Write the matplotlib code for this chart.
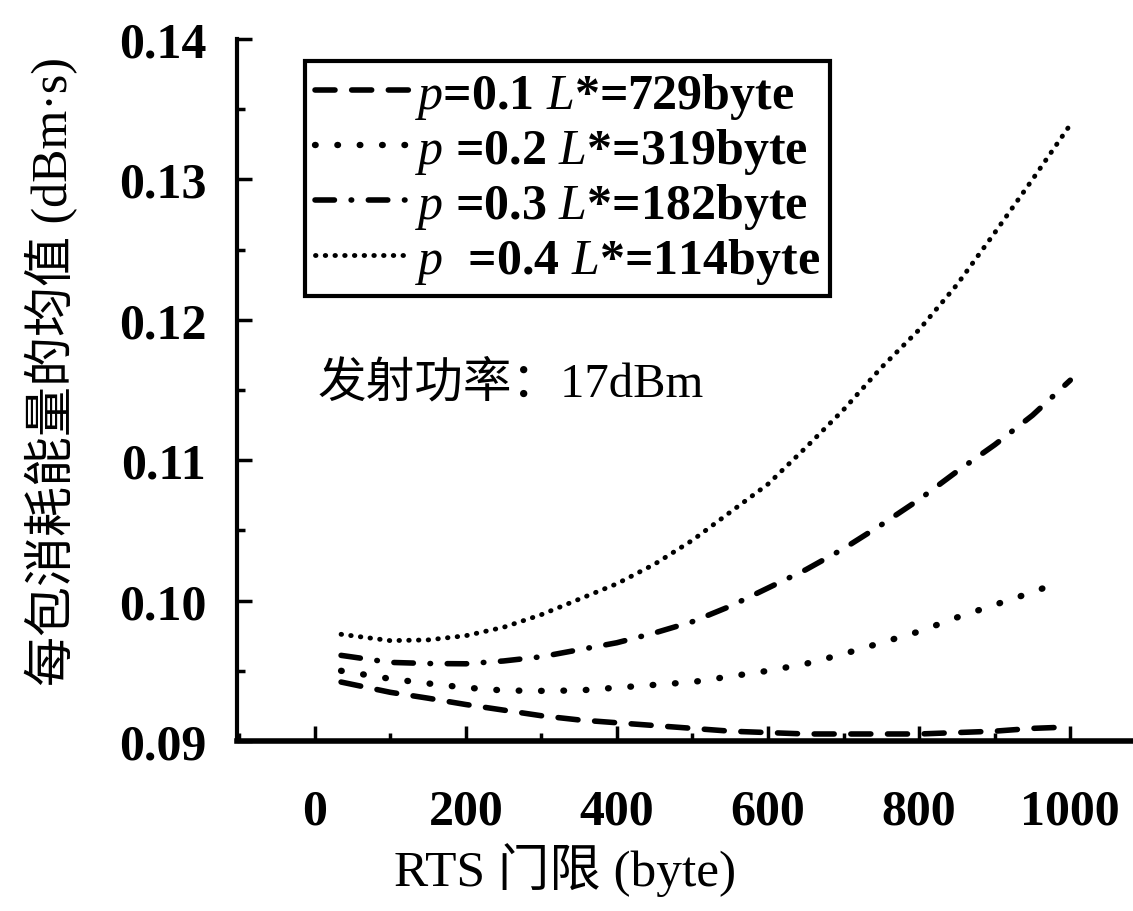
import matplotlib
matplotlib.use("Agg")
import matplotlib.pyplot as plt
from matplotlib.ticker import MultipleLocator

# fonts: Times-like latin, CJK falls back to Noto
plt.rcParams['font.family'] = ['Liberation Serif', 'Noto Sans CJK SC']
plt.rcParams['mathtext.fontset'] = 'custom'
plt.rcParams['mathtext.rm'] = 'Liberation Serif'
plt.rcParams['mathtext.it'] = 'Liberation Serif:italic'

# RTS threshold (byte)
x = [35, 100, 150, 200, 250, 300, 350, 400, 450, 500, 550,
     600, 650, 700, 750, 800, 850, 900, 950, 1000]
x_p2 = [35, 100, 150, 200, 250, 300, 350, 400, 450, 500, 550,
        600, 650, 700, 750, 800, 850, 900, 950, 975]

# mean energy per packet (dBm.s)
y_p1 = [0.0942, 0.09347, 0.09305, 0.0926, 0.0922, 0.0918, 0.0915, 0.0913, 0.0911, 0.0909, 0.0907,
        0.0906, 0.0905, 0.0905, 0.0905, 0.0905, 0.0906, 0.0907, 0.0909, 0.0910]
y_p2 = [0.0950, 0.09443, 0.0941, 0.0938, 0.0936, 0.09357, 0.0936, 0.0938, 0.0940, 0.0942, 0.0946,
        0.0950, 0.0955, 0.0962, 0.0970, 0.0978, 0.0988, 0.0997, 0.1006, 0.1011]
y_p3 = [0.0961, 0.0956, 0.09552, 0.0955, 0.0957, 0.0960, 0.0965, 0.0970, 0.0977, 0.0985, 0.0996,
        0.1009, 0.1022, 0.1037, 0.1054, 0.1072, 0.1092, 0.1111, 0.1132, 0.1157]
y_p4 = [0.0976, 0.09715, 0.0972, 0.0975, 0.0981, 0.0990, 0.1001, 0.1012, 0.1026, 0.1043, 0.1063,
        0.1083, 0.1109, 0.1136, 0.1166, 0.1193, 0.1225, 0.1262, 0.1300, 0.1339]

labels = [r"$p$=0.1 $L$*=729byte",
          r"$p$ =0.2 $L$*=319byte",
          r"$p$ =0.3 $L$*=182byte",
          r"$p$  =0.4 $L$*=114byte"]

fig = plt.figure(figsize=(11.33, 9.12), dpi=100)
ax = fig.add_axes([0.209, 0.1864, 0.791, 0.7697])

ax.plot(x, y_p1, color='k', lw=4.0, ls=(0, (3.6, 3.0)), dash_capstyle='round', label=labels[0])
ax.plot(x_p2, y_p2, color='k', lw=4.6, ls=(0, (0.1, 3.4)), dash_capstyle='round', label=labels[1])
ax.plot(x, y_p3, color='k', lw=4.0, ls=(0, (3.5, 3.0, 0.1, 3.0)), dash_capstyle='round', label=labels[2])
ax.plot(x, y_p4, color='k', lw=3.5, ls=(0, (0.1, 1.9)), dash_capstyle='round', label=labels[3])

ax.set_xlim(-103, 1083)
ax.set_ylim(0.09, 0.14)
ax.xaxis.set_major_locator(MultipleLocator(200))
ax.xaxis.set_minor_locator(MultipleLocator(100))
ax.yaxis.set_minor_locator(MultipleLocator(0.005))
ax.set_yticks([0.09, 0.10, 0.11, 0.12, 0.13, 0.14])
ax.set_yticklabels(['0.09', '0.10', '0.11', '0.12', '0.13', '0.14'])

ax.tick_params(which='both', direction='in', width=2.5, labelsize=36)
ax.tick_params(which='major', length=11)
ax.tick_params(which='minor', length=6)
ax.tick_params(axis='x', pad=34)
ax.tick_params(axis='y', pad=22)
for lab in ax.get_xticklabels() + ax.get_yticklabels():
    lab.set_fontweight('bold')

for side in ['top', 'right']:
    ax.spines[side].set_visible(False)
ax.spines['left'].set_linewidth(3)
ax.spines['bottom'].set_linewidth(4)

leg = ax.legend(loc='upper left', bbox_to_anchor=(0.076, 0.969), fontsize=36,
                frameon=True, fancybox=False, framealpha=1, handlelength=1.9, handletextpad=0.1,
                labelspacing=0.1, borderpad=0.2, borderaxespad=0)
leg.get_frame().set_edgecolor('k')
leg.get_frame().set_linewidth(3)
for t in leg.get_texts():
    t.set_fontweight('bold')

ax.text(0.09, 0.511, "发射功率：17dBm", transform=ax.transAxes, fontsize=35,
        va='center', ha='left')

fig.text(565 / 1133, 1 - 870 / 912, "RTS 门限 (byte)", fontsize=37, ha='center', va='center')
fig.text(52 / 1133, 1 - 372 / 912, "每包消耗能量的均值 (dBm·s)", fontsize=36,
         rotation=90, ha='center', va='center')

fig.savefig("out.png", dpi=100)
